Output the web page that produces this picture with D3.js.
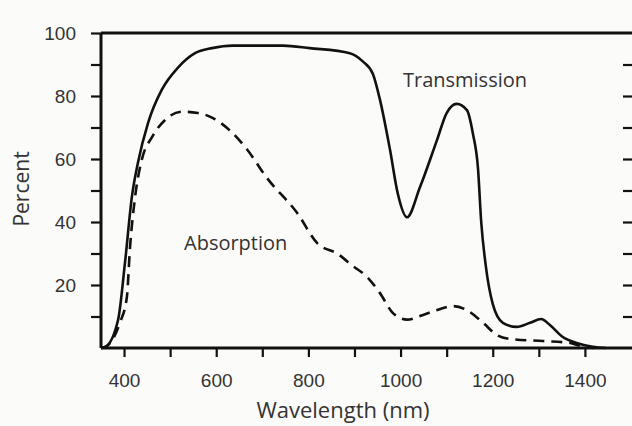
<!DOCTYPE html>
<html>
<head>
<meta charset="utf-8">
<script src="https://cdn.jsdelivr.net/npm/d3@7"></script>
<style>
  body { margin: 0; background: #fbfbf9; }
  svg { display: block; font-family: "Open Sans", Lato, sans-serif; }
</style>
</head>
<body>
<div id="chart"></div>
<script>
// wavelength (nm) and percent
var transWave = [350, 359, 387, 402, 417, 430, 452, 482, 517, 554, 591, 636, 745, 803, 890, 918, 940, 955, 977, 994, 1014, 1042, 1079, 1100, 1122, 1144, 1157, 1168, 1175, 1185, 1200, 1222, 1252, 1281, 1305, 1324, 1352, 1382, 1417, 1445];
var transPct  = [0, 0.3, 8.9, 27, 48, 58.7, 71.4, 82, 89, 93.6, 95.2, 96, 96, 95.2, 93.6, 91, 87, 79, 63, 49, 41.5, 51, 66, 74.6, 77.5, 75.5, 68, 57, 40, 26, 14, 8, 6.7, 8, 9.2, 7.3, 3.5, 1.6, 0.4, 0];

var absWave = [350, 359, 391, 406, 413, 424, 439, 461, 489, 526, 560, 593, 630, 667, 710, 775, 821, 862, 897, 927, 955, 984, 1014, 1049, 1078, 1114, 1144, 1179, 1209, 1237, 1309, 1368, 1396, 1420];
var absPct  = [0, 0.3, 8, 16, 32, 48, 60, 67, 72.4, 75, 74.6, 73, 69, 63, 54, 43, 33, 30, 26, 22.6, 17.5, 11, 9, 10.5, 12, 13.3, 12, 8, 4.1, 2.9, 2.2, 1.6, 0.4, 0];

var xTicks = [400, 500, 600, 700, 800, 900, 1000, 1100, 1200, 1300, 1400];
var xLabels = [400, 600, 800, 1000, 1200, 1400];
var yTicks = [10, 20, 30, 40, 50, 60, 70, 80, 90, 100];
var yLabels = [20, 40, 60, 80, 100];
var rightTicks = [10, 20, 30, 40, 50, 60, 70, 80, 90];

var width = 632, height = 426;

var svg = d3.select('#chart').append('svg')
    .attr('width', width)
    .attr('height', height);

var x = d3.scaleLinear().domain([350, 1500]).range([101, 631]);
var y = d3.scaleLinear().domain([0, 100]).range([348, 33]);

var line = d3.line()
    .x(function(d){ return x(d[0]); })
    .y(function(d){ return y(d[1]); })
    .curve(d3.curveMonotoneX);

// bottom axis
var xAxis = svg.append('g')
    .attr('transform', 'translate(0,' + y(0) + ')')
    .call(d3.axisBottom(x).tickValues(xTicks).tickSize(9).tickPadding(17)
        .tickFormat(function(d){ return xLabels.indexOf(d) >= 0 ? d : ''; }));

// left axis
var yAxis = svg.append('g')
    .attr('transform', 'translate(' + x(350) + ',0)')
    .call(d3.axisLeft(y).tickValues(yTicks).tickSize(10).tickPadding(15)
        .tickFormat(function(d){ return yLabels.indexOf(d) >= 0 ? d : ''; }));

// right-hand inward ticks
var rAxis = svg.append('g')
    .attr('transform', 'translate(' + width + ',0)')
    .call(d3.axisLeft(y).tickValues(rightTicks).tickSize(9).tickFormat(''));
rAxis.select('.domain').remove();

[xAxis, yAxis, rAxis].forEach(function(g){
  g.selectAll('.domain').attr('stroke', '#111').attr('stroke-width', 3);
  g.selectAll('.tick line').attr('stroke', '#111').attr('stroke-width', 2.2);
  g.selectAll('.tick text').attr('fill', '#333').style('font-size', '19px');
});
xAxis.select('.domain').attr('d', 'M' + x(350) + ',0H' + width);
yAxis.select('.domain').attr('d', 'M0,' + y(0) + 'V' + y(100));

// top frame line
svg.append('line')
    .attr('x1', x(350)).attr('x2', width)
    .attr('y1', y(100)).attr('y2', y(100))
    .attr('stroke', '#111').attr('stroke-width', 3);

// curves
svg.append('path')
    .datum(d3.zip(transWave, transPct))
    .attr('fill', 'none')
    .attr('stroke', '#111')
    .attr('stroke-width', 2.6)
    .attr('d', line);

svg.append('path')
    .datum(d3.zip(absWave, absPct))
    .attr('fill', 'none')
    .attr('stroke', '#111')
    .attr('stroke-width', 2.6)
    .attr('stroke-dasharray', '11,7')
    .attr('d', line);

// labels
svg.append('text')
    .attr('x', 465).attr('y', 87)
    .attr('text-anchor', 'middle')
    .attr('fill', '#333')
    .style('font-size', '20px')
    .text('Transmission');

svg.append('text')
    .attr('x', 184).attr('y', 250)
    .attr('fill', '#333')
    .style('font-size', '20px')
    .text('Absorption');

svg.append('text')
    .attr('x', 343).attr('y', 418)
    .attr('text-anchor', 'middle')
    .attr('fill', '#333')
    .style('font-size', '22px')
    .text('Wavelength (nm)');

svg.append('text')
    .attr('transform', 'translate(29,189) rotate(-90)')
    .attr('text-anchor', 'middle')
    .attr('fill', '#333')
    .style('font-size', '21px')
    .text('Percent');
</script>
</body>
</html>
